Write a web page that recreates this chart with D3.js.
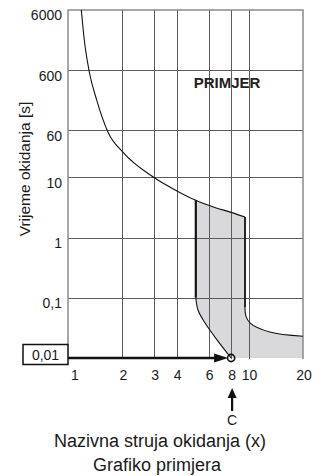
<!DOCTYPE html>
<html>
<head>
<meta charset="utf-8">
<script src="https://cdn.jsdelivr.net/npm/d3@7"></script>
<style>
  html, body { margin: 0; padding: 0; background: #fff; }
  svg { display: block; font-family: "Liberation Sans", Arial, sans-serif; }
</style>
</head>
<body>
<svg id="chart" width="325" height="476"></svg>
<script>
// ---- data ----
const xTicks = [1, 2, 3, 4, 6, 8, 10, 20];
const xTickLabels = ["1", "2", "3", "4", "6", "8", "10", "20"];
const xGrid = [2, 3, 4, 6, 8, 10];
const yTicks = [6000, 600, 60, 10, 1, 0.1];
const yTickLabels = ["6000", "600", "60", "10", "1", "0,1"];
const yGrid = [600, 60, 10, 1, 0.1];
const boxValue = 0.01;
const boxLabel = "0,01";
const pointC = 8;
// main time-current curve [multiple, seconds]
const mainCurve = [[1.185, 6000], [1.231, 1905], [1.312, 561], [1.442, 192], [1.671, 55.1], [2.024, 25.6], [2.98, 10], [4.08, 5.77], [5.1, 4.15], [6.5, 3.16], [8, 2.62], [9.55, 2.19]];
// upper border of tolerance band (part of main curve)
const bandTop = [[5.1, 4.15], [6.5, 3.16], [8, 2.62], [9.55, 2.19]];
// left (min) boundary
const leftVertical = [[5.1, 4.15], [5.1, 0.1]];
const leftCurve = [[5.1, 0.1], [5.25, 0.062], [5.74, 0.038], [6.68, 0.02], [8, 0.01]];
// right (max) boundary
const rightVertical = [[9.55, 2.19], [9.55, 0.07]];
const rightCurve = [[9.55, 0.07], [9.65, 0.05], [10.2, 0.038], [13.1, 0.027], [20, 0.023]];
const bandBottom = [[20, 0.01], [8, 0.01]];

const title1 = "Nazivna struja okidanja (x)";
const title2 = "Grafiko primjera";
const yTitle = "Vrijeme okidanja [s]";
const stamp = "PRIMJER";

// ---- layout ----
const svg = d3.select("#chart");
const L = 68, R = 303, T = 10, B = 358;
const x = d3.scaleLog().domain([1, 20]).range([L, R]);
const y = d3.scaleLog().domain([0.01, 6000]).range([B, T]);

const line = d3.line().x(d => x(d[0])).y(d => y(d[1])).curve(d3.curveCatmullRom.alpha(0.5));
const lineMono = d3.line().x(d => x(d[0])).y(d => y(d[1])).curve(d3.curveMonotoneX);
const lineLin = d3.line().x(d => x(d[0])).y(d => y(d[1]));

// band fill
const revLeft = leftCurve.slice().reverse();
const fillPath = lineMono(bandTop)
  + lineLin(rightVertical).replace(/^M/, "L")
  + line(rightCurve).replace(/^M/, "L")
  + lineLin(bandBottom).replace(/^M/, "L")
  + line(revLeft).replace(/^M/, "L")
  + "Z";
svg.append("path").attr("d", fillPath).attr("fill", "#d9d9db").attr("stroke", "none");

// grid
const grid = svg.append("g").attr("stroke", "#5c5c5c").attr("stroke-width", 1).attr("shape-rendering", "crispEdges");
grid.selectAll("line.v").data(xGrid).join("line")
  .attr("x1", d => Math.round(x(d)) + 0.5).attr("x2", d => Math.round(x(d)) + 0.5)
  .attr("y1", T).attr("y2", B + 1);
grid.selectAll("line.h").data(yGrid).join("line")
  .attr("x1", L).attr("x2", R)
  .attr("y1", d => Math.round(y(d)) + 0.5).attr("y2", d => Math.round(y(d)) + 0.5);

// frame
const frame = svg.append("g").attr("stroke", "#8a8a8a").attr("stroke-width", 1.5).attr("fill", "none");
frame.append("path").attr("d", `M${L},${y(boxValue) - 14}V${T}H${R}V${B + 1}`);

// curves
svg.append("path").attr("d", lineMono(mainCurve)).attr("fill", "none").attr("stroke", "#111").attr("stroke-width", 1.1);
svg.append("path").attr("d", lineLin(leftVertical)).attr("fill", "none").attr("stroke", "#111").attr("stroke-width", 2.2);
svg.append("path").attr("d", line(leftCurve)).attr("fill", "none").attr("stroke", "#111").attr("stroke-width", 1.1);
svg.append("path").attr("d", lineLin(rightVertical)).attr("fill", "none").attr("stroke", "#111").attr("stroke-width", 1.8);
svg.append("path").attr("d", line(rightCurve)).attr("fill", "none").attr("stroke", "#111").attr("stroke-width", 1.1);

// y tick labels
svg.append("g").selectAll("text").data(yTicks).join("text")
  .attr("x", L - 6)
  .attr("y", (d, i) => i === 0 ? T + 10 : y(d) + 10.5)
  .attr("text-anchor", "end")
  .attr("font-size", 14)
  .attr("fill", "#1a1a1a")
  .text((d, i) => yTickLabels[i]);

// x tick labels
svg.append("g").selectAll("text").data(xTicks).join("text")
  .attr("x", (d, i) => x(d) + (i === 0 ? 7 : 1))
  .attr("y", 380)
  .attr("text-anchor", "middle")
  .attr("font-size", 14)
  .attr("fill", "#1a1a1a")
  .text((d, i) => xTickLabels[i]);

// 0,01 box
const by = y(boxValue);
svg.append("rect").attr("x", 23).attr("y", by - 13.5).attr("width", 45).attr("height", 20)
  .attr("fill", "#fff").attr("stroke", "#111").attr("stroke-width", 1.5);
svg.append("text").attr("x", 45.5).attr("y", by + 2).attr("text-anchor", "middle")
  .attr("font-size", 14).attr("fill", "#1a1a1a").text(boxLabel);

// horizontal arrow
const cx = x(pointC);
svg.append("line").attr("x1", L).attr("x2", cx - 14).attr("y1", by).attr("y2", by)
  .attr("stroke", "#111").attr("stroke-width", 2.6);
svg.append("path").attr("d", `M${cx - 3},${by}L${cx - 17},${by - 4.5}L${cx - 17},${by + 4.5}Z`).attr("fill", "#111");
svg.append("circle").attr("cx", cx).attr("cy", by).attr("r", 3.6)
  .attr("fill", "none").attr("stroke", "#111").attr("stroke-width", 1.6);

// vertical arrow C
svg.append("path").attr("d", `M${cx + 1},388L${cx - 3.5},398L${cx + 5.5},398Z`).attr("fill", "#111");
svg.append("line").attr("x1", cx + 1).attr("x2", cx + 1).attr("y1", 396).attr("y2", 411)
  .attr("stroke", "#111").attr("stroke-width", 2.2);
svg.append("text").attr("x", cx + 1).attr("y", 425).attr("text-anchor", "middle")
  .attr("font-size", 14).attr("fill", "#1a1a1a").text("C");

// stamp
svg.append("text").attr("x", 227).attr("y", 88).attr("text-anchor", "middle")
  .attr("font-size", 15).attr("font-weight", "bold").attr("fill", "#222").text(stamp);

// titles
svg.append("text").attr("x", 160).attr("y", 447).attr("text-anchor", "middle")
  .attr("font-size", 18).attr("fill", "#1a1a1a").text(title1);
svg.append("text").attr("x", 157).attr("y", 471).attr("text-anchor", "middle")
  .attr("font-size", 18).attr("fill", "#1a1a1a").text(title2);
svg.append("text").attr("transform", "translate(30,169) rotate(-90)").attr("text-anchor", "middle")
  .attr("font-size", 15.5).attr("fill", "#1a1a1a").text(yTitle);
</script>
</body>
</html>
